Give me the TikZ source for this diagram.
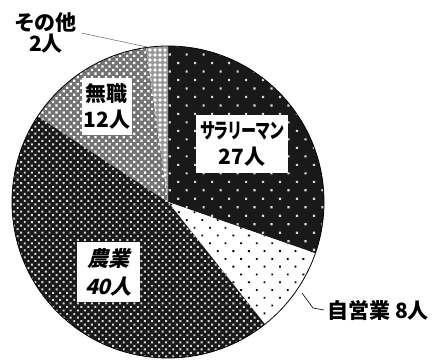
\documentclass[tikz,border=0pt]{standalone}
\usepackage{fontspec}
\usetikzlibrary{patterns.meta}
\newfontfamily\jpfont{Noto Sans CJK JP}[RawFeature=+palt]
\newfontfamily\jpslant{Noto Sans CJK JP}[FakeSlant=0.25,RawFeature=+palt]
\definecolor{inkdark}{gray}{0.1}
\definecolor{dotlight}{gray}{0.85}

\begin{document}
\begin{tikzpicture}[x=1pt,y=1pt,
    salary_slice/.style={preaction={fill=inkdark},pattern={Dots[distance=12pt,radius=1.5pt,angle=45]},pattern color=dotlight},
    self_slice/.style={preaction={fill=white},pattern={Dots[distance=11pt,radius=1.3pt,angle=45]},pattern color=black},
    farm_slice/.style={preaction={fill=inkdark},pattern={Dots[distance=5pt,radius=1.4pt,angle=45]},pattern color=dotlight},
    jobless_slice/.style={preaction={fill=black!55},pattern={Dots[distance=5pt,radius=1.6pt,angle=45]},pattern color=white},
    other_slice/.style={preaction={fill=black!40},pattern={Dots[distance=5pt,radius=1.8pt]},pattern color=white},
    jp_text/.style={font=\jpfont\bfseries\fontsize{21}{26}\selectfont},
    label_box/.style={jp_text,fill=white,inner sep=0pt,align=center},
    leader_line/.style={black!60,line width=0.5pt}]
  \useasboundingbox (0,0) rectangle (437,360);
  \coordinate (c) at (168,158);
  % slices, clockwise from the top
  \path[salary_slice] (c) -- ++(90:156) arc[start angle=90,end angle=-19.21,radius=156] -- cycle;
  \path[self_slice] (c) -- ++(-19.21:156) arc[start angle=-19.21,end angle=-51.57,radius=156] -- cycle;
  \path[farm_slice] (c) -- ++(-51.57:156) arc[start angle=-51.57,end angle=-213.37,radius=156] -- cycle;
  \path[jobless_slice] (c) -- ++(146.63:156) arc[start angle=146.63,end angle=98.09,radius=156] -- cycle;
  \path[other_slice] (c) -- ++(98.09:156) arc[start angle=98.09,end angle=90,radius=156] -- cycle;
  \draw[black,line width=0.8pt] (c) circle[radius=156];
  % labels
\node[label_box,minimum width=92pt,minimum height=58pt] (salary) at (242,216) {\scalebox{0.72}[1]{サラリーマン}\\27人};
\node[label_box,minimum width=50pt,minimum height=57pt] (jobless) at (107,253.5) {無職\\12人};
\node[label_box,minimum width=63pt,minimum height=60pt,font=\jpslant\bfseries\fontsize{21}{28}\selectfont] (farm) at (108.5,88) {農業\\40人};
\node[jp_text,align=center,inner sep=5pt,font=\jpfont\bfseries\fontsize{21}{21}\selectfont] (other) at (46,327) {その他\\2人};
\node[jp_text,anchor=west,inner sep=3pt] (selfemp) at (324,50) {自営業 8人};
  \coordinate (other_tip) at (147,313);
  \coordinate (self_tip) at (302,67);
  \draw[leader_line] (other.east) -- (other_tip);
  \draw[black,line width=0.6pt] (self_tip) -- ++(11,-15) -- (selfemp.west);
\end{tikzpicture}
\end{document}
